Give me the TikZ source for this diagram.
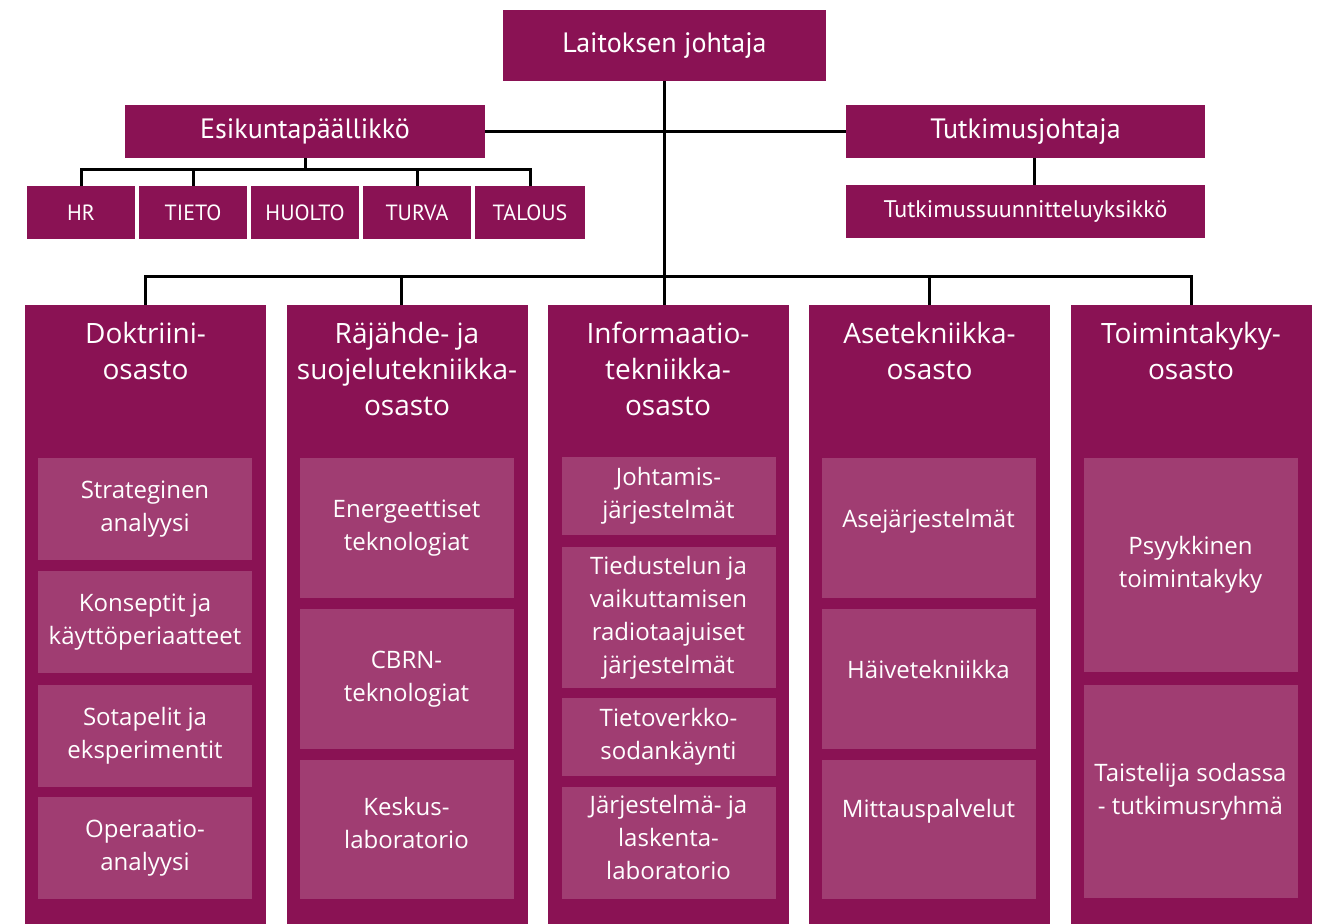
\documentclass[tikz,border=0pt]{standalone}
\usepackage{fontspec}
\setmainfont{PT Sans}
\newfontfamily\levea{Open Sans}
\usetikzlibrary{positioning}
\definecolor{tumma}{HTML}{8A1254}
\definecolor{vaalea}{HTML}{A03D72}

\begin{document}
\begin{tikzpicture}[x=0.5pt,y=-0.5pt,
  laatikko/.style={fill=tumma,text=white,inner sep=0pt,minimum height=26.5pt},
  osasto/.style={fill=tumma,minimum width=120.5pt,minimum height=309.5pt,inner sep=0pt},
  otsikko/.style={text=white,align=center,inner sep=0pt,font=\levea\fontsize{14}{18}\selectfont},
  yksikko/.style={fill=vaalea,text=white,align=center,inner sep=0pt,minimum width=107pt,font=\levea\fontsize{12}{16.5}\selectfont},
  viiva/.style={line width=1.5pt}]
\useasboundingbox (0,0) rectangle (1322,924);
% johto
\node[laatikko,minimum width=161.5pt,minimum height=35.5pt,font=\fontsize{14}{16}\selectfont] (johtaja) at (664.5,45.5) {Laitoksen johtaja};
\node[laatikko,minimum width=180pt,font=\fontsize{14}{16}\selectfont] (esikunta) at (305,131.5) {Esikuntapäällikkö};
\node[laatikko,minimum width=179.5pt,font=\fontsize{14}{16}\selectfont] (tutkimus) at (1025.5,131.5) {Tutkimusjohtaja};
\node[laatikko,minimum width=179.5pt,font=\fontsize{12}{14}\selectfont] (suunnittelu) at (1025.5,211.5) {Tutkimussuunnitteluyksikkö};
% esikunnan yksiköt
\node[laatikko,minimum width=54pt,font=\fontsize{11}{13}\selectfont] (hr) at (81,212.5) {HR};
\node[laatikko,minimum width=54pt,font=\fontsize{11}{13}\selectfont] (tieto) at (193,212.5) {TIETO};
\node[laatikko,minimum width=54pt,font=\fontsize{11}{13}\selectfont] (huolto) at (305,212.5) {HUOLTO};
\node[laatikko,minimum width=54pt,font=\fontsize{11}{13}\selectfont] (turva) at (417,212.5) {TURVA};
\node[laatikko,minimum width=55pt,font=\fontsize{11}{13}\selectfont] (talous) at (530,212.5) {TALOUS};
% osastot
\node[osasto] (doktriini) at (145.5,614.5) {};
\node[osasto] (rajahde) at (407,614.5) {};
\node[osasto] (info) at (668,614.5) {};
\node[osasto] (ase) at (929.5,614.5) {};
\node[osasto] (toiminta) at (1191,614.5) {};
\node[otsikko,below=8.5pt of doktriini.north] (doktriinio) {Doktriini-\\osasto};
\node[otsikko,below=8.5pt of rajahde.north] (rajahdeo) {Räjähde- ja\\suojelutekniikka-\\osasto};
\node[otsikko,below=8.5pt of info.north] (infoo) {Informaatio-\\tekniikka-\\osasto};
\node[otsikko,below=8.5pt of ase.north] (aseo) {Asetekniikka-\\osasto};
\node[otsikko,below=8.5pt of toiminta.north] (toimintao) {Toimintakyky-\\osasto};
% Doktriiniosasto
\node[yksikko,minimum height=51pt] (d1) at (145,509) {Strateginen\\analyysi};
\node[yksikko,minimum height=51pt,below=5pt of d1] (d2) {Konseptit ja\\käyttöperiaatteet};
\node[yksikko,minimum height=51pt,below=5.5pt of d2] (d3) {Sotapelit ja\\eksperimentit};
\node[yksikko,minimum height=51pt,below=5pt of d3] (d4) {Operaatio-\\analyysi};
% Räjähde- ja suojelutekniikkaosasto
\node[yksikko,minimum height=70pt] (r1) at (406.5,528) {Energeettiset\\teknologiat};
\node[yksikko,minimum height=70pt,below=5pt of r1] (r2) {CBRN-\\teknologiat};
\node[yksikko,minimum height=69.5pt,below=5pt of r2,text depth=6pt] (r3) {Keskus-\\laboratorio};
% Informaatiotekniikkaosasto
\node[yksikko,minimum height=39pt] (i1) at (668.5,496) {Johtamis-\\järjestelmät};
\node[yksikko,minimum height=70.5pt,below=5.5pt of i1] (i2) {Tiedustelun ja\\vaikuttamisen\\radiotaajuiset\\järjestelmät};
\node[yksikko,minimum height=39pt,below=4.5pt of i2] (i3) {Tietoverkko-\\sodankäynti};
\node[yksikko,minimum height=56pt,below=5.5pt of i3,text depth=6pt] (i4) {Järjestelmä- ja\\laskenta-\\laboratorio};
% Asetekniikkaosasto
\node[yksikko,minimum height=70pt,text depth=10pt] (a1) at (928.5,528) {Asejärjestelmät};
\node[yksikko,minimum height=70pt,below=5pt of a1,text depth=9pt] (a2) {Häivetekniikka};
\node[yksikko,minimum height=69.5pt,below=5pt of a2,text depth=21pt] (a3) {Mittauspalvelut};
% Toimintakykyosasto
\node[yksikko,minimum height=107pt] (t1) at (1190.5,565) {Psyykkinen\\toimintakyky};
\node[yksikko,minimum height=106.5pt,below=6pt of t1] (t2) {Taistelija sodassa\\- tutkimusryhmä};
% viivat
\coordinate (ehaara) at (0,170);
\coordinate (ohaara) at (0,277);
\draw[viiva] (esikunta.east) -- (tutkimus.west);
\draw[viiva] (johtaja.south) -- (johtaja.south |- info.north);
\draw[viiva] ([xshift=4.5pt]tutkimus.south) -- ([xshift=4.5pt]suunnittelu.north);
\draw[viiva] (esikunta.south) -- (esikunta.south |- ehaara);
\draw[viiva] (hr.north) |- (ehaara -| talous.north) -- (talous.north);
\draw[viiva] (tieto.north) -- (tieto.north |- ehaara);
\draw[viiva] (turva.north) -- (turva.north |- ehaara);
\draw[viiva] (doktriini.north) |- (ohaara -| toiminta.north) -- (toiminta.north);
\draw[viiva] ([xshift=-3pt]rajahde.north) -- ([xshift=-3pt]rajahde.north |- ohaara);
\draw[viiva] (ase.north) -- (ase.north |- ohaara);
\end{tikzpicture}
\end{document}
